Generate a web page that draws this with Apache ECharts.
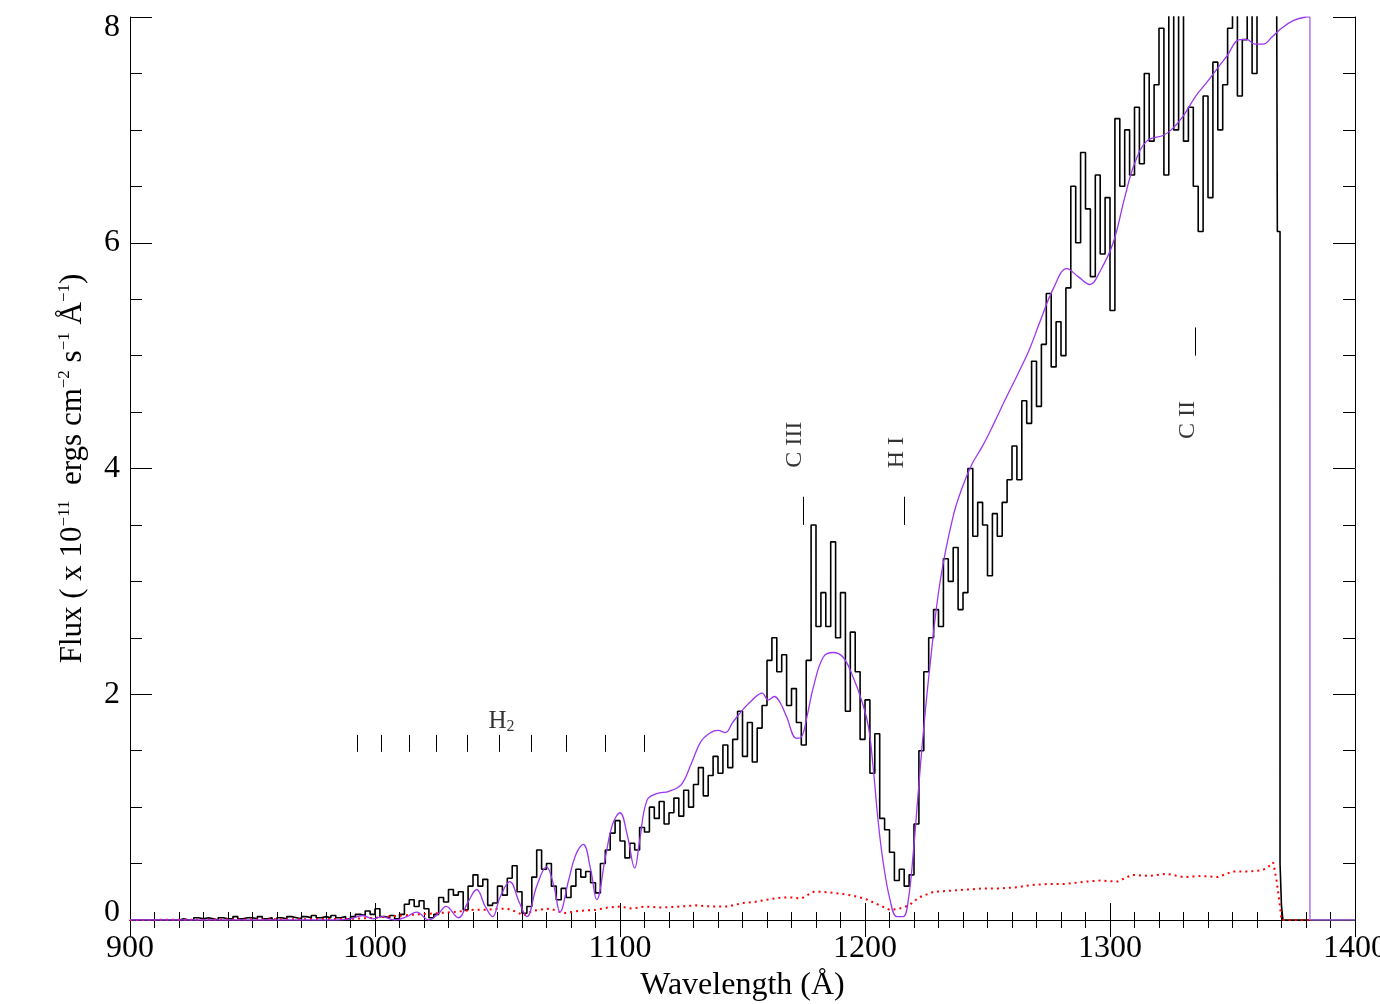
<!DOCTYPE html>
<html><head><meta charset="utf-8">
<script src="https://cdn.jsdelivr.net/npm/echarts@6/dist/echarts.min.js"></script>
<style>html,body{margin:0;padding:0;background:#fff}#c{width:1380px;height:1004px}</style>
</head><body><div id="c"></div>
<script>
// ---- observed spectrum (2 A bins starting at 900 A) ----
const fluxStartWl = 900;
const fluxBinWidth = 2;
const fluxValues = [
  0,0,0,0,0,0,0,0,0,0,
  0.01,0,0,0.02,0.01,0.02,0.01,0,0.02,0.01,
  0.01,0.03,0.01,0.02,0.02,0.01,0.03,0.01,0.02,0,
  0.02,0.01,0.03,0.02,0.01,0.03,0.02,0.04,0.02,0.03,
  0.02,0.04,0.02,0.03,0.01,0.03,0.05,0.04,0.08,0.05,
  0.1,0.03,0.02,0.04,0.01,0.05,0.14,0.18,0.12,0.17,
  0.1,0.02,0.05,0.2,0.16,0.27,0.22,0.25,0.09,0.3,
  0.4,0.3,0.36,0.13,0.15,0.3,0.22,0.37,0.48,0.25,
  0.06,0.12,0.38,0.62,0.45,0.5,0.3,0.18,0.28,0.2,
  0.3,0.45,0.38,0.43,0.33,0.24,0.5,0.62,0.77,0.88,
  0.7,0.55,0.68,0.62,0.82,0.78,1.0,0.9,1.05,0.85,
  0.95,1.08,0.92,1.15,1.0,1.2,1.35,1.1,1.28,1.45,
  1.3,1.55,1.35,1.6,1.85,1.45,1.75,1.4,1.7,1.9,
  2.3,2.5,2.2,2.35,1.9,2.05,1.75,1.55,2.3,3.5,
  2.6,2.9,2.6,3.35,2.5,2.9,1.85,2.55,2.2,1.6,
  1.95,1.3,1.65,0.9,0.8,0.6,0.35,0.45,0.3,0.4,
  0.85,1.5,2.2,2.5,2.75,2.6,3.2,3.0,3.3,2.75,
  2.9,4.0,3.4,3.7,3.5,3.05,3.6,3.4,3.7,3.9,
  4.2,3.9,4.6,4.4,4.95,4.55,5.1,5.55,4.9,5.3,
  5.0,5.6,6.5,6.0,6.8,6.3,5.7,6.6,5.9,6.4,
  5.4,7.1,6.5,7.0,6.6,7.2,6.7,7.5,6.9,7.4,
  7.9,6.6,8.3,7.0,8.1,6.9,7.2,6.5,6.1,7.3,
  6.4,7.6,7.0,7.4,7.9,8.2,7.3,7.8,8.3,7.5,
  8.2,8.5,8.4,8.5,8.4
];
const fluxTailWl = [1368.3, 1369.4, 1370.0, 1370.6, 1400];
const fluxTailValues = [6.1, 0.5, 0.12, 0, 0];

// ---- model (purple) ----
const modelWl = [900,960,985,990,995,999,1003,1008,1013,1017,1022,1026,1029,1034,1038,1041.5,1045,1048,1051,1055,1059,1062,1066,1070,1073,1075.5,1079,1082,1085,1088,1090.5,1094,1097,1100,1103,1106,1108,1111,1115,1120,1125,1129,1133,1137,1140,1143,1146,1150,1154,1158,1160.5,1163,1165.5,1168,1172,1174,1176.3,1179,1183,1187,1191,1195,1199,1201.5,1203.3,1205.3,1207.3,1210.2,1213,1215.6,1217.7,1219.8,1221.8,1223.8,1226.5,1230.6,1235.9,1240,1243.7,1248,1252.2,1257,1262,1267,1271.4,1277,1282.4,1287,1291.8,1296,1301.3,1306,1310,1315,1321.6,1325,1329.8,1335,1339.5,1344,1347.6,1353,1356,1359,1362.5,1366,1370,1375,1380];
const modelValues = [0,0,0,0.01,0.04,0.01,0.03,0,0.03,0.07,0,0.06,0.12,0.02,0.16,0.27,0.12,0.03,0.2,0.34,0.15,0.03,0.3,0.47,0.3,0.07,0.35,0.58,0.67,0.45,0.18,0.55,0.85,0.95,0.75,0.46,0.7,1.06,1.12,1.14,1.2,1.38,1.58,1.66,1.68,1.66,1.75,1.86,1.95,2.01,1.95,1.98,1.92,1.8,1.61,1.62,1.8,2.07,2.33,2.37,2.33,2.16,1.92,1.7,1.36,0.89,0.53,0.18,0.03,0.03,0.18,0.62,1.15,1.66,2.25,2.99,3.57,3.85,4.04,4.2,4.38,4.6,4.82,5.05,5.3,5.6,5.77,5.7,5.63,5.75,6.0,6.4,6.7,6.9,6.95,7.0,7.12,7.3,7.42,7.55,7.65,7.8,7.8,7.76,7.76,7.82,7.9,7.97,8.0];
const modelTailWl = [1380, 1381.6, 1381.6, 1400];
const modelTailValues = [8.0, 8.0, 0, 0];

// ---- error (red dotted) ----
const errorWl = [900,950,990,1000,1005,1011,1018,1025,1032,1040,1045,1050,1054,1058,1060.5,1064,1070,1073,1077,1083,1090,1095,1100,1105,1110,1117,1125,1131,1137,1144,1150,1155,1160,1166,1170,1174,1179,1183,1187,1191,1194,1198,1201,1204,1206,1210,1214,1218,1222,1228,1235,1242,1248,1255,1262,1268,1275,1282,1290,1296,1303,1309,1316,1323,1330,1337,1344,1350,1357,1362,1364,1366.6,1368,1369.4,1370,1382];
const errorValues = [0,0.005,0.01,0.02,0.03,0.04,0.05,0.06,0.07,0.09,0.09,0.1,0.1,0.07,0.04,0.08,0.1,0.09,0.06,0.08,0.09,0.11,0.12,0.1,0.12,0.11,0.12,0.13,0.12,0.12,0.15,0.16,0.18,0.2,0.2,0.19,0.25,0.25,0.24,0.23,0.22,0.2,0.18,0.15,0.13,0.09,0.1,0.13,0.2,0.25,0.26,0.27,0.28,0.28,0.29,0.31,0.32,0.32,0.34,0.35,0.34,0.4,0.39,0.41,0.38,0.39,0.38,0.43,0.43,0.44,0.46,0.51,0.35,0.12,0,0];

// ---- line identifications ----
const h2LineWl = [992.8,1002.7,1013.9,1024.9,1037.8,1050.7,1063.7,1077.9,1093.9,1109.8];
const h2LineLow = 1.49, h2LineHigh = 1.64;
const h2LabelPos = [1051.6, 1.76];
const ionLabels = ['C III','H I','C II'];
const ionLineWl = [1174.7, 1215.9, 1334.7];
const ionLineLow = [3.5, 3.5, 5.0];
const ionLineHigh = [3.75, 3.75, 5.25];
const ionLabelWl = [1171.4, 1213.1, 1331.8];
const ionLabelFlux = [4.21, 4.14, 4.43];

// ---- axes ----
const xMin = 900, xMax = 1400, xStep = 100;
const yMin = 0, yMax = 8, yStep = 2;

const SERIF = "'Liberation Serif','Times New Roman',serif";
const FS = 32;

const fluxData = fluxValues.map((v, i) => [fluxStartWl + i * fluxBinWidth, v])
  .concat(fluxTailWl.map((w, i) => [w, fluxTailValues[i]]));
const modelData = modelWl.map((w, i) => [w, modelValues[i]]);
const modelTail = modelTailWl.map((w, i) => [w, modelTailValues[i]]);
const errorData = errorWl.map((w, i) => [w, errorValues[i]]);

const markLines = h2LineWl.map(w => [{coord: [w, h2LineLow]}, {coord: [w, h2LineHigh]}])
  .concat(ionLineWl.map((w, i) => [{coord: [w, ionLineLow[i]]}, {coord: [w, ionLineHigh[i]]}]));

const labelData = ionLabels.map((t, i) => ({
  value: [ionLabelWl[i], ionLabelFlux[i]],
  label: {formatter: t, rotate: 90}
})).concat([{value: h2LabelPos, label: {formatter: '{a|H}{s|2}', rotate: 0}}]);

const axisCommon = {
  type: 'value',
  axisLine: {show: true, lineStyle: {color: '#000', width: 1}},
  splitLine: {show: false},
  minorSplitLine: {show: false}
};

const chart = echarts.init(document.getElementById('c'), null, {renderer: 'canvas'});
chart.setOption({
  animation: false,
  backgroundColor: '#fff',
  grid: {left: 130, right: 25, top: 17, bottom: 84, containLabel: false, outerBoundsMode: 'none'},
  xAxis: [
    Object.assign({}, axisCommon, {
      position: 'bottom', min: xMin, max: xMax, interval: xStep,
      axisTick: {show: true, inside: true, length: 17, lineStyle: {color: '#000', width: 1}},
      minorTick: {show: true, splitNumber: 10, length: 8, lineStyle: {color: '#000', width: 1}},
      axisLabel: {show: true, margin: 13, color: '#000', fontSize: FS, fontFamily: SERIF,
        showMinLabel: true, showMaxLabel: true, formatter: v => String(v)},
      name: 'Wavelength (Å)', nameLocation: 'middle', nameGap: 48,
      nameTextStyle: {color: '#000', fontSize: FS, fontFamily: SERIF}
    }),
    Object.assign({}, axisCommon, {
      position: 'top', min: xMin, max: xMax, interval: xStep,
      axisTick: {show: true, inside: true, length: 17, lineStyle: {color: '#000', width: 1}},
      minorTick: {show: true, splitNumber: 10, length: 8, lineStyle: {color: '#000', width: 1}},
      axisLabel: {show: false}
    })
  ],
  yAxis: [
    Object.assign({}, axisCommon, {
      position: 'left', min: yMin, max: yMax, interval: yStep,
      axisTick: {show: true, inside: true, length: 22, lineStyle: {color: '#000', width: 1}},
      minorTick: {show: true, splitNumber: 4, length: 12, lineStyle: {color: '#000', width: 1}},
      axisLabel: {
        show: true, margin: 10, color: '#000', fontSize: FS, fontFamily: SERIF,
        formatter: v => v === yMax ? '{t|' + v + '}' : (v === yMin ? '{b|' + v + '}' : '{m|' + v + '}'),
        rich: {
          t: {fontSize: FS, fontFamily: SERIF, color: '#000', padding: [22, 0, 0, 0]},
          b: {fontSize: FS, fontFamily: SERIF, color: '#000', padding: [0, 0, 14, 0]},
          m: {fontSize: FS, fontFamily: SERIF, color: '#000'}
        }
      },
      name: '{n|Flux ( x 10}{s|−11}{n|  ergs cm}{s|−2}{n| s}{s|−1}{n| Å}{s|−1}{n|)}',
      nameLocation: 'middle', nameGap: 42, nameRotate: 90,
      nameTextStyle: {
        color: '#000', fontSize: 31, fontFamily: SERIF,
        rich: {
          n: {fontSize: 31, lineHeight: 31, fontFamily: SERIF, color: '#000'},
          s: {fontSize: 17, lineHeight: 17, fontFamily: SERIF, color: '#000', padding: [0, 0, 15, 0]}
        }
      }
    }),
    Object.assign({}, axisCommon, {
      position: 'right', min: yMin, max: yMax, interval: yStep,
      axisTick: {show: true, inside: true, length: 22, lineStyle: {color: '#000', width: 1}},
      minorTick: {show: true, splitNumber: 4, length: 12, lineStyle: {color: '#000', width: 1}},
      axisLabel: {show: false}
    })
  ],
  series: [
    {
      name: 'flux', type: 'line', xAxisIndex: 0, yAxisIndex: 0, data: fluxData,
      step: 'end', showSymbol: false, symbol: 'none', clip: true,
      lineStyle: {color: '#000', width: 1.6}, z: 2, silent: true
    },
    {
      name: 'error', type: 'line', data: errorData, showSymbol: false, symbol: 'none', clip: true,
      lineStyle: {color: '#ff0000', width: 2, type: [2, 4]}, z: 3, silent: true
    },
    {
      name: 'model', type: 'line', data: modelData, smooth: 0.4, showSymbol: false, symbol: 'none', clip: true,
      lineStyle: {color: '#9d36f0', width: 1.3}, z: 4, silent: true
    },
    {
      name: 'modelTail', type: 'line', data: modelTail, showSymbol: false, symbol: 'none', clip: true,
      lineStyle: {color: '#b070f0', width: 1.5}, z: 4, silent: true
    },
    {
      name: 'labels', type: 'scatter', data: labelData, symbolSize: 1,
      itemStyle: {color: 'rgba(0,0,0,0)'}, silent: true, z: 5,
      label: {
        show: true, position: 'inside', color: '#000', fontSize: 24, fontFamily: SERIF,
        rich: {
          a: {fontSize: 25, lineHeight: 25, fontFamily: SERIF, color: '#000', verticalAlign: 'top'},
          s: {fontSize: 16, lineHeight: 16, fontFamily: SERIF, color: '#000', padding: [11, 0, 0, 0]}
        }
      },
      markLine: {
        silent: true, symbol: ['none', 'none'], label: {show: false},
        lineStyle: {color: '#000', width: 1, type: 'solid'},
        emphasis: {disabled: true},
        data: markLines
      }
    }
  ]
});
</script>
</body></html>
